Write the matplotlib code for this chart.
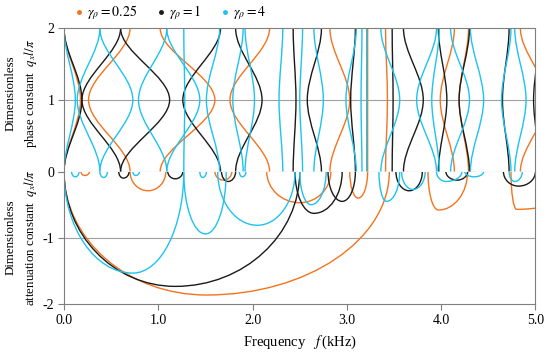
import matplotlib

matplotlib.use("Agg")
import matplotlib.pyplot as plt  # noqa: E402
from matplotlib.lines import Line2D  # noqa: E402
from matplotlib.patches import PathPatch  # noqa: E402
from matplotlib.path import Path  # noqa: E402

plt.rcParams["font.family"] = ["Liberation Serif", "DejaVu Serif"]
plt.rcParams["mathtext.fontset"] = "stix"

ORANGE = "#F4731F"
BLACK = "#1A1A1A"
CYAN = "#1DC3F0"
RATIOS = ["0.25", "1", "4"]

# phase constant branches: (f where q=0 and q=2, f where q=1), kHz
ORANGE_PHASE = [(0.00, 0.175), (0.70, 0.26), (1.02, 1.60), (2.18, 1.76), (2.82, 3.03),
                (3.22, 3.22), (3.41, 3.43), (4.14, 3.99), (4.29, 4.19), (4.84, 5.12)]
BLACK_PHASE = [(0.00, 0.19), (0.60, 0.19), (0.60, 1.12), (1.66, 1.26), (1.82, 2.10),
               (2.43, 2.46), (2.73, 2.58), (3.09, 3.04), (3.48, 3.49), (3.60, 3.81),
               (3.97, 4.06), (4.30, 4.19), (4.72, 4.65), (5.05, 4.98)]
CYAN_PHASE = [(0.00, 0.12), (0.38, 0.14), (0.38, 0.73), (1.09, 0.79), (1.09, 1.44),
              (1.27, 1.28), (1.65, 1.51), (1.90, 1.79), (1.92, 2.02), (2.32, 2.28),
              (2.53, 2.50), (2.65, 2.75), (3.10, 2.99), (3.16, 3.15), (3.21, 3.21),
              (3.36, 3.56), (3.95, 3.74), (3.98, 3.90), (4.10, 4.30), (4.31, 4.45),
              (4.74, 4.64), (4.78, 4.90)]

# attenuation loops: (f start, f at deepest point, f end, depth)
ORANGE_ATTEN = [(0.00, 1.51, 3.45, 1.86), (0.18, 0.22, 0.27, 0.06), (0.70, 0.89, 1.08, 0.29),
                (1.60, 1.69, 1.78, 0.13), (2.15, 2.50, 2.83, 0.47), (3.03, 3.12, 3.22, 0.40),
                (3.86, 3.97, 4.28, 0.58), (4.74, 4.80, 5.60, 0.57)]
BLACK_ATTEN = [(0.00, 1.18, 2.50, 1.73), (0.58, 0.63, 0.69, 0.10), (1.10, 1.18, 1.26, 0.11),
               (1.67, 1.74, 1.82, 0.15), (2.45, 2.65, 2.95, 0.63), (2.80, 2.95, 3.09, 0.45),
               (3.52, 3.66, 3.80, 0.29), (4.05, 4.17, 4.28, 0.13), (4.66, 4.82, 5.00, 0.22)]
CYAN_ATTEN = [(0.00, 0.73, 1.27, 1.53), (1.27, 1.50, 1.72, 0.94), (1.63, 2.05, 2.45, 0.81),
              (0.08, 0.12, 0.16, 0.08), (0.38, 0.42, 0.46, 0.09), (0.73, 0.76, 0.80, 0.06),
              (1.44, 1.47, 1.51, 0.09), (1.86, 1.89, 1.93, 0.08), (2.50, 2.62, 2.78, 0.50),
              (3.34, 3.42, 3.56, 0.45), (3.58, 3.70, 3.83, 0.27), (3.95, 4.05, 4.22, 0.15),
              (4.25, 4.35, 4.45, 0.08), (4.72, 4.78, 4.86, 0.15)]

XTICKS = [0, 1, 2, 3, 4, 5]
XTICK_LABELS = ["0.0", "1.0", "2.0", "3.0", "4.0", "5.0"]


def branch_path(fe, fv):
    # mirrored branch q=0 -> 1 -> 2, smooth with vertical tangents at the ends
    k = 1 / 3
    verts = [(fe, 0), (fe, k), (fv, 1 - k), (fv, 1), (fv, 1 + k), (fe, 2 - k), (fe, 2)]
    codes = [Path.MOVETO] + [Path.CURVE4] * 6
    return Path(verts, codes)


def loop_path(f1, fm, f2, d):
    # two quarter ellipses dipping from q=0 down to -d and back
    c = 0.5523
    verts = [(f1, 0), (f1, -c * d), (fm - c * (fm - f1), -d), (fm, -d),
             (fm + c * (f2 - fm), -d), (f2, -c * d), (f2, 0)]
    codes = [Path.MOVETO] + [Path.CURVE4] * 6
    return Path(verts, codes)


fig = plt.figure(figsize=(5.5, 3.55), dpi=100)
ax_top = fig.add_axes([0.1164, 0.5169, 0.8572, 0.4034])
ax_bot = fig.add_axes([0.1164, 0.1428, 0.8572, 0.3741])

for color, phase, atten in [(ORANGE, ORANGE_PHASE, ORANGE_ATTEN),
                            (BLACK, BLACK_PHASE, BLACK_ATTEN),
                            (CYAN, CYAN_PHASE, CYAN_ATTEN)]:
    for fe, fv in phase:
        ax_top.add_patch(PathPatch(branch_path(fe, fv), fill=False, edgecolor=color, lw=1.0))
    for f1, fm, f2, d in atten:
        ax_bot.add_patch(PathPatch(loop_path(f1, fm, f2, d), fill=False, edgecolor=color, lw=1.0))

for ax in (ax_top, ax_bot):
    ax.set_xlim(0, 5)
    ax.set_xticks(XTICKS)
    for s in ax.spines.values():
        s.set_color("#7F7F7F")
        s.set_linewidth(0.8)
    ax.tick_params(axis="both", direction="out", length=4, width=0.8, color="#7F7F7F",
                   labelsize=10, pad=3)

ax_top.set_ylim(0, 2)
ax_top.set_yticks([0, 1, 2])
ax_top.set_yticklabels(["0", "1", "2"])
ax_top.axhline(1, color="#A0A0A0", lw=0.8, zorder=0)
ax_top.tick_params(axis="x", bottom=False, labelbottom=False)

ax_bot.set_ylim(-2, 0)
ax_bot.set_yticks([-2, -1, 0])
ax_bot.set_yticklabels(["-2", "-1", ""])
ax_bot.axhline(-1, color="#A0A0A0", lw=0.8, zorder=0)
ax_bot.set_xticklabels(XTICK_LABELS)
ax_bot.spines["top"].set_visible(False)
ax_bot.set_xlabel(r"Frequency   $f\,$(kHz)", fontsize=10.5, labelpad=5)

fig.text(0.040, 0.738, "Dimensionless\nphase constant  $q_x l/\\pi$", rotation=90,
         ha="center", va="center", multialignment="center", fontsize=9.3, linespacing=1.45)
fig.text(0.040, 0.332, "Dimensionless\nattenuation constant  $q_x l/\\pi$", rotation=90,
         ha="center", va="center", multialignment="center", fontsize=9.3, linespacing=1.45)

handles = [Line2D([], [], ls="none", marker="o", ms=2.5, color=c) for c in (ORANGE, BLACK, CYAN)]
labels = [rf"$\gamma_\rho = {r}$" for r in RATIOS]
fig.legend(handles, labels, loc="center", bbox_to_anchor=(0.31, 0.963), ncol=3,
           frameon=False, fontsize=10, handlelength=0.6, handletextpad=0.3, columnspacing=1.4,
           borderpad=0)

fig.savefig("out.png", dpi=100)
